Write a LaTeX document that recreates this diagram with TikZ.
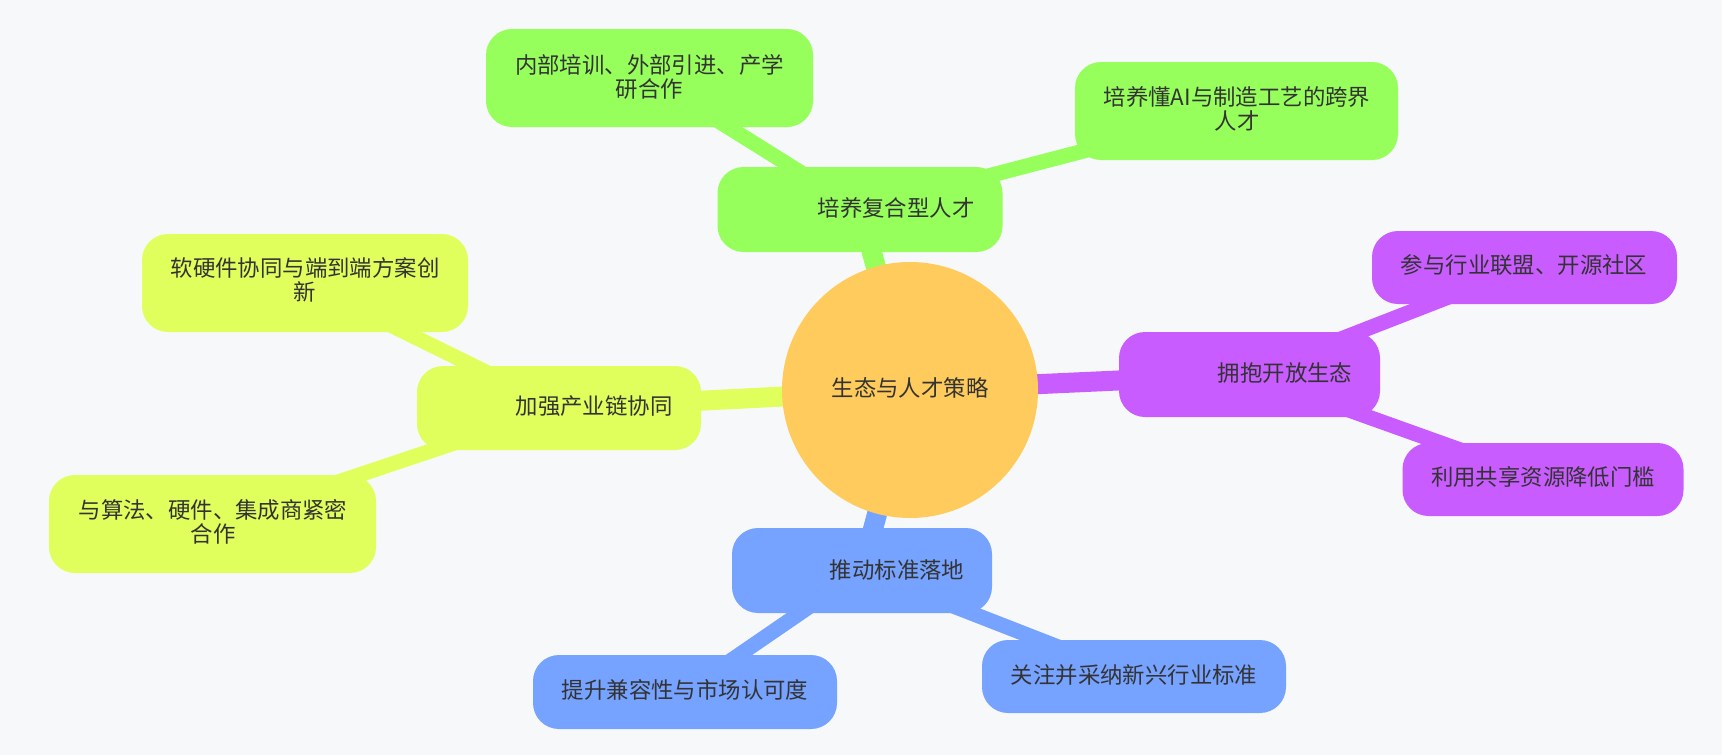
\documentclass[tikz,border=0pt]{standalone}
\usepackage{fontspec}
\setmainfont{Noto Sans CJK SC}
\usetikzlibrary{backgrounds}
\definecolor{bgc}{RGB}{247,248,250}
\definecolor{txt}{RGB}{51,51,51}
\definecolor{rootc}{RGB}{255,203,92}
\definecolor{grn}{RGB}{150,255,92}
\definecolor{ylw}{RGB}{225,255,92}
\definecolor{prp}{RGB}{201,92,255}
\definecolor{blu}{RGB}{118,163,255}
\tikzset{
  box/.style={draw=none, rounded corners=26pt, inner sep=0pt},
  lbl/.style={text=txt, align=center, inner sep=0pt, font=\fontsize{22.4}{24}\selectfont},
  mainedge/.style={line width=20pt},
  leafedge/.style={line width=15pt},
}
\begin{document}
\begin{tikzpicture}[x=1pt,y=-1pt]
\useasboundingbox (0,0) rectangle (1722,755);
% root
\node[circle, fill=rootc, minimum size=256pt, inner sep=0pt] (root) at (910,390) {};
\node[lbl] (root-t) at (910,388) {生态与人才策略};
% green
\node[box, fill=grn, minimum width=285pt, minimum height=85pt] (gm) at (860,209.5) {};
\node[lbl] (gm-t) at (896,208) {培养复合型人才};
\node[box, fill=grn, minimum width=327pt, minimum height=98pt] (gl1) at (649.5,78) {};
\node[lbl] (gl1-t) at (649.5,76.5) {内部培训、外部引进、产学\\研合作};
\node[box, fill=grn, minimum width=323pt, minimum height=98pt] (gl2) at (1236.5,111) {};
\node[lbl] (gl2-t) at (1237,109) {培养懂AI与制造工艺的跨界\\人才};
% purple
\node[box, fill=prp, minimum width=261pt, minimum height=85pt] (pm) at (1249.5,374.5) {};
\node[lbl] (pm-t) at (1285,373) {拥抱开放生态};
\node[box, fill=prp, minimum width=305pt, minimum height=73pt] (pl1) at (1524.5,267.5) {};
\node[lbl] (pl1-t) at (1524,265) {参与行业联盟、开源社区};
\node[box, fill=prp, minimum width=281pt, minimum height=73pt] (pl2) at (1543,479.5) {};
\node[lbl] (pl2-t) at (1543,477) {利用共享资源降低门槛};
% yellow
\node[box, fill=ylw, minimum width=284pt, minimum height=84pt] (ym) at (559,408) {};
\node[lbl] (ym-t) at (594,406) {加强产业链协同};
\node[box, fill=ylw, minimum width=326pt, minimum height=98pt] (yl1) at (305,283) {};
\node[lbl] (yl1-t) at (305,280) {软硬件协同与端到端方案创\\新};
\node[box, fill=ylw, minimum width=327pt, minimum height=98pt] (yl2) at (212.5,524) {};
\node[lbl] (yl2-t) at (213,521.5) {与算法、硬件、集成商紧密\\合作};
% blue
\node[box, fill=blu, minimum width=260pt, minimum height=85pt] (bm) at (862,570.5) {};
\node[lbl] (bm-t) at (897,570) {推动标准落地};
\node[box, fill=blu, minimum width=304pt, minimum height=74pt] (bl1) at (685,692) {};
\node[lbl] (bl1-t) at (685,690) {提升兼容性与市场认可度};
\node[box, fill=blu, minimum width=304pt, minimum height=73pt] (bl2) at (1134,676.5) {};
\node[lbl] (bl2-t) at (1134,675) {关注并采纳新兴行业标准};
\begin{pgfonlayer}{background}
\fill[bgc] (0,0) rectangle (1722,755);
\draw[mainedge, grn] (root.center) -- (gm.center);
\draw[leafedge, grn] (gm.center) -- (gl1.center);
\draw[leafedge, grn] (gm.center) -- (gl2.center);
\draw[mainedge, prp] (root.center) -- (pm.center);
\draw[leafedge, prp] (pm.center) -- (pl1.center);
\draw[leafedge, prp] (pm.center) -- (pl2.center);
\draw[mainedge, ylw] (root.center) -- (ym.center);
\draw[leafedge, ylw] (ym.center) -- (yl1.center);
\draw[leafedge, ylw] (ym.center) -- (yl2.center);
\draw[mainedge, blu] (root.center) -- (bm.center);
\draw[leafedge, blu] (bm.center) -- (bl1.center);
\draw[leafedge, blu] (bm.center) -- (bl2.center);
\end{pgfonlayer}
\end{tikzpicture}
\end{document}
